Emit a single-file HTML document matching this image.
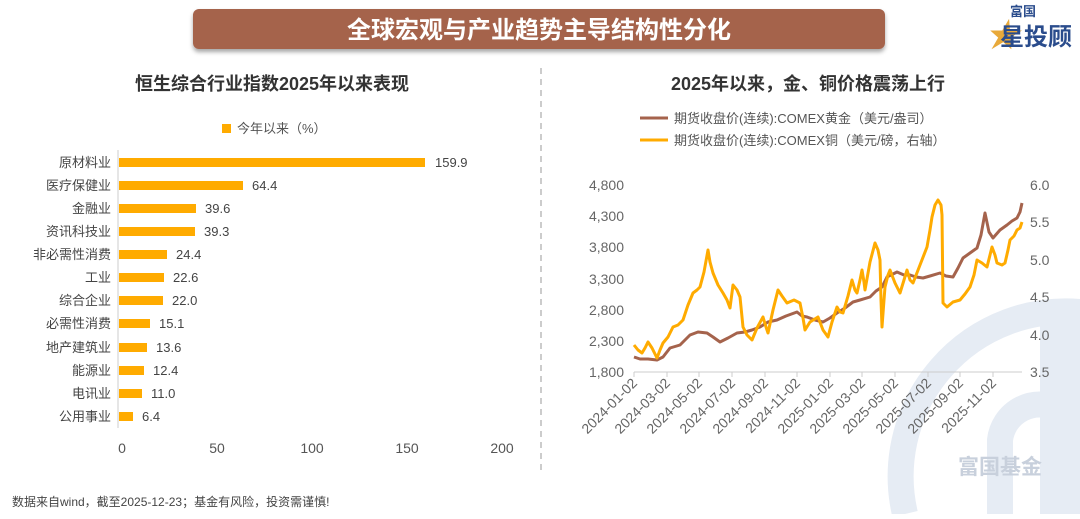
<!DOCTYPE html><html><head><meta charset="utf-8"><style>
body{margin:0;width:1080px;height:514px;overflow:hidden;background:#fff;font-family:"Liberation Sans","Noto Sans CJK SC",sans-serif}
</style></head><body>
<svg width="1080" height="514" xmlns="http://www.w3.org/2000/svg" style="font-family:'Liberation Sans','Noto Sans CJK SC',sans-serif">
<defs><filter id="sh" x="-5%" y="-20%" width="110%" height="160%"><feDropShadow dx="0" dy="3" stdDeviation="2" flood-color="#000" flood-opacity="0.35"/></filter></defs>
<!-- watermark -->
<g fill="none" stroke="#e6ecf4" stroke-width="26">
<path d="M905,514 A165,165 0 0 1 1080,312"/>
<path d="M1000,514 L1000,440 A40,40 0 0 1 1060,410"/>
</g>
<rect x="1040" y="310" width="40" height="204" fill="#e6ecf4"/>
<text x="958" y="474" font-size="21" font-weight="bold" fill="#c8d0dc">富国基金</text>
<!-- header -->
<rect x="193" y="9" width="692" height="40" rx="6" fill="#a5634c" filter="url(#sh)"/>
<text x="539" y="38" font-size="24" font-weight="bold" fill="#fff" text-anchor="middle">全球宏观与产业趋势主导结构性分化</text>
<text x="985" y="47" font-size="34" font-weight="bold" fill="#e8a93a" font-style="italic">★</text>
<text x="1010" y="16" font-size="13" font-weight="bold" fill="#2a4c8c">富国</text>
<text x="1000" y="45" font-size="24" font-weight="bold" fill="#2a4c8c">星投顾</text>
<line x1="541" y1="68" x2="541" y2="470" stroke="#bbb" stroke-dasharray="6,5" stroke-width="1.5"/>
<!-- left chart -->
<text x="272" y="90" font-size="18" font-weight="bold" fill="#333" text-anchor="middle">恒生综合行业指数2025年以来表现</text>
<rect x="222" y="124" width="9" height="9" fill="#ffab00"/>
<text x="237" y="133" font-size="13" fill="#555">今年以来（%）</text>
<line x1="118" y1="150" x2="118" y2="428" stroke="#ccc"/>
<g font-size="13" fill="#444">
<g text-anchor="end">
<text x="111" y="167">原材料业</text><text x="111" y="190">医疗保健业</text><text x="111" y="213">金融业</text><text x="111" y="236">资讯科技业</text><text x="111" y="259">非必需性消费</text><text x="111" y="282">工业</text><text x="111" y="305">综合企业</text><text x="111" y="328">必需性消费</text><text x="111" y="352">地产建筑业</text><text x="111" y="375">能源业</text><text x="111" y="398">电讯业</text><text x="111" y="421">公用事业</text>
</g>
<g fill="#ffab00">
<rect x="119" y="158" width="306" height="9"/><rect x="119" y="181" width="124" height="9"/><rect x="119" y="204" width="77" height="9"/><rect x="119" y="227" width="76" height="9"/><rect x="119" y="250" width="48" height="9"/><rect x="119" y="273" width="45" height="9"/><rect x="119" y="296" width="44" height="9"/><rect x="119" y="319" width="31" height="9"/><rect x="119" y="343" width="28" height="9"/><rect x="119" y="366" width="25" height="9"/><rect x="119" y="389" width="23" height="9"/><rect x="119" y="412" width="14" height="9"/>
</g>
<text x="435" y="167">159.9</text><text x="252" y="190">64.4</text><text x="205" y="213">39.6</text><text x="204" y="236">39.3</text><text x="176" y="259">24.4</text><text x="173" y="282">22.6</text><text x="172" y="305">22.0</text><text x="159" y="328">15.1</text><text x="156" y="352">13.6</text><text x="153" y="375">12.4</text><text x="151" y="398">11.0</text><text x="142" y="421">6.4</text>
<g text-anchor="middle" font-size="14" fill="#555"><text x="122" y="453">0</text><text x="217" y="453">50</text><text x="312" y="453">100</text><text x="407" y="453">150</text><text x="502" y="453">200</text></g>
</g>
<text x="12" y="506" font-size="12" fill="#444">数据来自wind，截至2025-12-23；基金有风险，投资需谨慎!</text>
<!-- right chart -->
<text x="808" y="90" font-size="18" font-weight="bold" fill="#333" text-anchor="middle">2025年以来，金、铜价格震荡上行</text>
<line x1="640" y1="118" x2="668" y2="118" stroke="#a5634c" stroke-width="3"/>
<text x="674" y="123" font-size="13" fill="#555">期货收盘价(连续):COMEX黄金（美元/盎司）</text>
<line x1="640" y1="140" x2="668" y2="140" stroke="#ffab00" stroke-width="3"/>
<text x="674" y="145" font-size="13" fill="#555">期货收盘价(连续):COMEX铜（美元/磅，右轴）</text>
<g font-size="14" fill="#666">
<g text-anchor="end"><text x="624" y="190">4,800</text><text x="624" y="221">4,300</text><text x="624" y="252">3,800</text><text x="624" y="284">3,300</text><text x="624" y="315">2,800</text><text x="624" y="346">2,300</text><text x="624" y="377">1,800</text></g>
<text x="1030" y="190">6.0</text><text x="1030" y="227">5.5</text><text x="1030" y="265">5.0</text><text x="1030" y="302">4.5</text><text x="1030" y="340">4.0</text><text x="1030" y="377">3.5</text>
</g>
<line x1="634" y1="372" x2="1022" y2="372" stroke="#ccc"/>
<g stroke="#ccc">
<line x1="634" y1="372" x2="634" y2="377"/><line x1="667" y1="372" x2="667" y2="377"/><line x1="699" y1="372" x2="699" y2="377"/><line x1="732" y1="372" x2="732" y2="377"/><line x1="765" y1="372" x2="765" y2="377"/><line x1="797" y1="372" x2="797" y2="377"/><line x1="830" y1="372" x2="830" y2="377"/><line x1="862" y1="372" x2="862" y2="377"/><line x1="895" y1="372" x2="895" y2="377"/><line x1="928" y1="372" x2="928" y2="377"/><line x1="960" y1="372" x2="960" y2="377"/><line x1="993" y1="372" x2="993" y2="377"/>
</g>
<g font-size="14" fill="#666" text-anchor="end">
<text transform="translate(638,384) rotate(-45)">2024-01-02</text><text transform="translate(671,384) rotate(-45)">2024-03-02</text><text transform="translate(703,384) rotate(-45)">2024-05-02</text><text transform="translate(736,384) rotate(-45)">2024-07-02</text><text transform="translate(769,384) rotate(-45)">2024-09-02</text><text transform="translate(801,384) rotate(-45)">2024-11-02</text><text transform="translate(834,384) rotate(-45)">2025-01-02</text><text transform="translate(866,384) rotate(-45)">2025-03-02</text><text transform="translate(899,384) rotate(-45)">2025-05-02</text><text transform="translate(932,384) rotate(-45)">2025-07-02</text><text transform="translate(964,384) rotate(-45)">2025-09-02</text><text transform="translate(997,384) rotate(-45)">2025-11-02</text>
</g>
<polyline fill="none" stroke="#a5634c" stroke-width="3" stroke-linejoin="round" points="634,357 640,359 648,359 657,360 663,357 670,348 680,345 690,335 698,332 707,333 713,337 720,342 728,338 737,333 745,332 752,330 760,327 768,322 777,320 786,316 797,312 802,316 807,317 815,320 823,322 830,318 837,313 845,308 853,302 860,300 870,297 876,291 882,287 887,277 893,274 897,272 904,275 910,275 916,277 923,278 930,276 940,273 946,276 953,277 958,268 963,258 970,253 977,248 981,235 985,213 989,232 993,238 1000,230 1007,225 1012,221 1017,218 1020,212 1022,203"/>
<polyline fill="none" stroke="#ffab00" stroke-width="3" stroke-linejoin="round" points="634,345 638,350 642,353 645,348 648,342 652,348 657,358 660,350 663,343 668,337 673,327 678,325 683,320 688,305 693,293 697,290 700,287 704,272 708,250 710,262 713,273 718,285 723,293 727,300 730,308 733,285 737,290 740,297 743,327 747,335 752,340 757,328 763,317 766,327 768,333 773,310 778,290 782,296 787,303 794,300 800,303 803,318 805,330 810,322 818,317 823,330 828,337 832,322 837,307 840,312 843,313 848,296 852,280 855,290 857,293 860,280 862,270 864,282 865,290 870,262 875,243 878,250 880,260 881,300 882,327 884,300 885,287 888,275 890,270 895,283 900,293 904,280 907,270 910,280 913,283 920,265 927,247 930,230 932,217 935,205 938,200 941,205 942,215 943,303 947,307 953,302 960,300 965,294 970,287 974,275 977,260 982,263 987,267 990,255 992,247 995,255 997,263 1002,265 1005,263 1008,250 1010,240 1014,236 1017,230 1020,228 1022,222"/>
</svg>
</body></html>
